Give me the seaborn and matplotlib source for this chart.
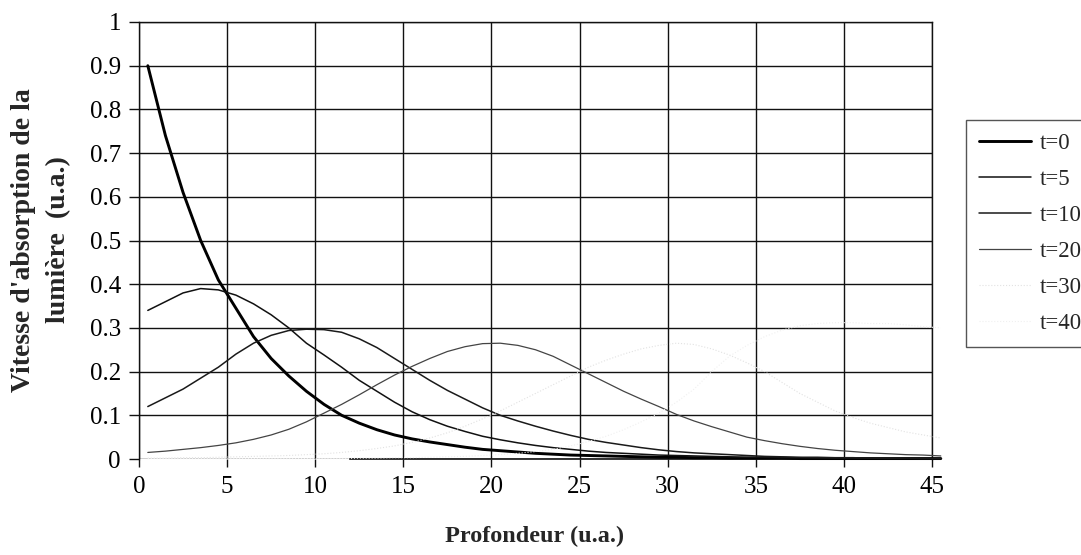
import matplotlib
matplotlib.use("Agg")
import matplotlib.pyplot as plt
import seaborn as sns
import pandas as pd

# ---- data ----
depth = [0.5, 1.5, 2.5, 3.5, 4.5, 5.5, 6.5, 7.5, 8.5, 9.5,
         10.5, 11.5, 12.5, 13.5, 14.5, 15.5, 16.5, 17.5, 18.5, 19.5,
         20.5, 21.5, 22.5, 23.5, 24.5, 25.5, 26.5, 27.5, 28.5, 29.5,
         30.5, 31.5, 32.5, 33.5, 34.5, 35.5, 36.5, 37.5, 38.5, 39.5,
         40.5, 41.5, 42.5, 43.5, 44.5, 45.5]

t0 = [0.90, 0.74, 0.61, 0.50, 0.41, 0.345, 0.28, 0.23, 0.19, 0.155,
      0.125, 0.100, 0.082, 0.067, 0.055, 0.046, 0.039, 0.033, 0.027, 0.022,
      0.019, 0.016, 0.013, 0.011, 0.009, 0.008, 0.007, 0.006, 0.005, 0.004,
      0.004, 0.003, 0.003, 0.002, 0.002, 0.002, 0.002, 0.001, 0.001, 0.001,
      0.001, 0.001, 0.001, 0.001, 0.001, 0.001]
t5 = [0.34, 0.36, 0.38, 0.39, 0.387, 0.375, 0.355, 0.33, 0.30, 0.265,
      0.238, 0.21, 0.18, 0.155, 0.13, 0.108, 0.09, 0.075, 0.063, 0.052,
      0.044, 0.037, 0.031, 0.026, 0.022, 0.018, 0.015, 0.013, 0.011, 0.009,
      0.008, 0.007, 0.006, 0.005, 0.004, 0.004, 0.003, 0.003, 0.002, 0.002,
      0.002, 0.002, 0.001, 0.001, 0.001, 0.001]
t10 = [0.12, 0.14, 0.16, 0.185, 0.21, 0.24, 0.265, 0.283, 0.294, 0.297,
       0.296, 0.29, 0.275, 0.255, 0.23, 0.205, 0.18, 0.157, 0.137, 0.117,
       0.10, 0.087, 0.075, 0.064, 0.054, 0.045, 0.038, 0.032, 0.026, 0.021,
       0.017, 0.014, 0.012, 0.010, 0.008, 0.006, 0.005, 0.004, 0.004, 0.003,
       0.003, 0.002, 0.002, 0.002, 0.001, 0.001]
t20 = [0.015, 0.018, 0.022, 0.026, 0.031, 0.037, 0.045, 0.055, 0.068, 0.085,
       0.105, 0.125, 0.147, 0.17, 0.192, 0.212, 0.23, 0.246, 0.257, 0.264,
       0.265, 0.26, 0.25, 0.235, 0.215, 0.195, 0.175, 0.155, 0.137, 0.12,
       0.102, 0.087, 0.074, 0.062, 0.05, 0.042, 0.035, 0.029, 0.024, 0.02,
       0.017, 0.014, 0.012, 0.010, 0.009, 0.007]
t30 = [0.002, 0.002, 0.003, 0.003, 0.004, 0.005, 0.006, 0.007, 0.008, 0.010,
       0.012, 0.015, 0.019, 0.024, 0.030, 0.038, 0.048, 0.060, 0.075, 0.092,
       0.11, 0.13, 0.15, 0.17, 0.19, 0.21, 0.226, 0.24, 0.252, 0.26,
       0.265, 0.262, 0.252, 0.238, 0.22, 0.20, 0.175, 0.15, 0.13, 0.11,
       0.095, 0.082, 0.072, 0.062, 0.055, 0.048]
t40 = [0.001, 0.001, 0.001, 0.001, 0.001, 0.001, 0.001, 0.001, 0.001, 0.001,
       0.001, 0.001, 0.002, 0.002, 0.003, 0.003, 0.004, 0.005, 0.006, 0.008,
       0.010, 0.013, 0.017, 0.022, 0.030, 0.040, 0.052, 0.067, 0.085, 0.105,
       0.13, 0.16, 0.20, 0.235, 0.26, 0.28, 0.295, 0.305, 0.31, 0.312,
       0.312, 0.31, 0.31, 0.307, 0.303, 0.30]

series_labels = ["t=0", "t=5", "t=10", "t=20", "t=30", "t=40"]
series_values = [t0, t5, t10, t20, t30, t40]

x_ticks = [0, 5, 10, 15, 20, 25, 30, 35, 40, 45]
y_ticks = [0, 0.1, 0.2, 0.3, 0.4, 0.5, 0.6, 0.7, 0.8, 0.9, 1]
y_tick_labels = ["0", "0.1", "0.2", "0.3", "0.4", "0.5", "0.6", "0.7", "0.8", "0.9", "1"]

x_label = "Profondeur (u.a.)"
y_label = "Vitesse d'absorption de la\nlumière  (u.a.)"

# ---- styles ----
colors = ["#000000", "#111111", "#1a1a1a", "#444444", "#e2e2e2", "#f0f0f0"]
widths = [2.1, 1.1, 1.1, 0.9, 0.8, 0.8]
styles = ["-", "-", "-", "-", ":", ":"]

sns.set_theme(style="white")
plt.rcParams["font.family"] = ["Liberation Serif", "DejaVu Serif"]

fig = plt.figure(figsize=(10.81, 5.55), dpi=100)
W, H = 1081, 555
ax = fig.add_axes([139 / W, (H - 459) / H, (932 - 139) / W, (459 - 22) / H])

for lab, vals, c, lw, ls in zip(series_labels, series_values, colors, widths, styles):
    df = pd.DataFrame({"depth": depth, "v": vals})
    sns.lineplot(data=df, x="depth", y="v", ax=ax, color=c, lw=lw,
                 linestyle=ls, label=lab, clip_on=False, zorder=3)

ax.set_xlim(0, 45)
ax.set_ylim(0, 1)
ax.set_xticks(x_ticks)
ax.set_yticks(y_ticks)
ax.set_yticklabels(y_tick_labels)
ax.set_xlabel("")
ax.set_ylabel("")

ax.grid(True, color="#111111", lw=1.0)
ax.set_axisbelow(True)
for side in ["top", "right", "left"]:
    ax.spines[side].set_visible(True)
    ax.spines[side].set_color("#111111")
    ax.spines[side].set_linewidth(1.0)
ax.spines["bottom"].set_color("#111111")
ax.spines["bottom"].set_linewidth(1.2)
ax.spines["bottom"].set_bounds(12, 45)

ax.tick_params(axis="x", direction="out", length=6, width=1.0, color="#111111",
               pad=6, labelsize=18, labelcolor="#000000", bottom=True)
ax.tick_params(axis="y", direction="out", length=7, width=1.0, color="#111111",
               pad=6, labelsize=18, labelcolor="#000000", left=True)

fig.text(535 / W, (H - 542) / H, x_label, ha="center", va="baseline",
         fontsize=17.5, fontweight="bold")
fig.text(41 / W, (H - 240) / H, y_label, ha="center", va="center", rotation=90,
         fontsize=20, fontweight="bold", linespacing=1.5, multialignment="center")

leg = ax.legend(loc="upper left", bbox_to_anchor=(966 / W, 1 - 120 / H),
                bbox_transform=fig.transFigure, fontsize=16.5, frameon=True,
                fancybox=False, shadow=False, framealpha=1, borderaxespad=0,
                borderpad=0.55, handlelength=2.3, handletextpad=0.35,
                labelspacing=0.66)
leg.get_frame().set_edgecolor("#555555")
leg.get_frame().set_linewidth(1.0)

fig.savefig("out.png", dpi=100)
